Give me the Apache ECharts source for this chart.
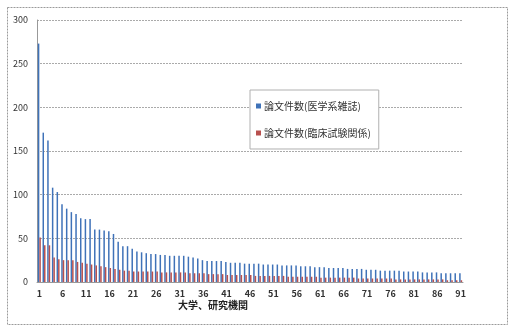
<!DOCTYPE html>
<html>
<head>
<meta charset="utf-8">
<script src="https://cdn.jsdelivr.net/npm/echarts@6/dist/echarts.min.js"></script>
<style>
  html, body { margin: 0; padding: 0; background: #fff; }
  #chart { width: 512px; height: 329px; }
</style>
</head>
<body>
<div id="chart"></div>
<script>
// Institutions ranked 1..91
const categories = [
  '1','2','3','4','5','6','7','8','9','10',
  '11','12','13','14','15','16','17','18','19','20',
  '21','22','23','24','25','26','27','28','29','30',
  '31','32','33','34','35','36','37','38','39','40',
  '41','42','43','44','45','46','47','48','49','50',
  '51','52','53','54','55','56','57','58','59','60',
  '61','62','63','64','65','66','67','68','69','70',
  '71','72','73','74','75','76','77','78','79','80',
  '81','82','83','84','85','86','87','88','89','90',
  '91'
];

// 論文件数 (医学系雑誌)
const medicalJournals = [
  273, 171, 162, 108, 103, 89, 84, 80, 78, 73,
  72, 72, 60, 60, 59, 58, 55, 46, 41, 41,
  38, 35, 34, 33, 32, 32, 31, 31, 30, 30,
  30, 30, 29, 28, 27, 25, 24, 24, 24, 24,
  23, 22, 22, 22, 21, 21, 21, 21, 20, 20,
  20, 20, 19, 19, 19, 19, 18, 18, 18, 17,
  17, 17, 16, 16, 16, 16, 15, 15, 15, 15,
  14, 14, 14, 13, 13, 13, 13, 13, 12, 12,
  12, 12, 11, 11, 11, 11, 10, 10, 10, 10,
  10
];

// 論文件数 (臨床試験関係)
const clinicalTrials = [
  51, 42, 42, 28, 26, 25, 25, 25, 23, 22,
  21, 20, 19, 18, 17, 16, 15, 14, 13, 13,
  12, 12, 12, 12, 12, 12, 11, 11, 11, 11,
  11, 11, 10, 10, 10, 10, 9, 9, 9, 9,
  8, 8, 8, 8, 8, 8, 7, 7, 7, 7,
  7, 7, 7, 6, 6, 6, 6, 6, 6, 6,
  5, 5, 5, 5, 5, 5, 5, 5, 4, 4,
  4, 4, 4, 4, 4, 4, 3, 3, 3, 3,
  3, 3, 3, 3, 3, 3, 3, 2, 2, 2,
  2
];

const seriesNames = ['論文件数(医学系雑誌)', '論文件数(臨床試験関係)'];
const axisTitle = '大学、研究機関';
const yTicks = { min: 0, max: 300, interval: 50 };

const font = '"Noto Sans CJK JP", "Noto Sans", sans-serif';
const chart = echarts.init(document.getElementById('chart'), null, { renderer: 'canvas' });

chart.setOption({
  backgroundColor: '#ffffff',
  animation: false,
  textStyle: { fontFamily: font },
  grid: { left: 37, right: 49, top: 20, bottom: 47, containLabel: false },
  legend: {
    orient: 'vertical',
    left: 250,
    top: 90,
    width: 135,
    padding: [11, 8, 11, 6],
    itemGap: 17,
    itemWidth: 5,
    itemHeight: 5,
    icon: 'rect',
    borderColor: '#b0b0b0',
    borderWidth: 1,
    backgroundColor: '#ffffff',
    textStyle: { fontSize: 10, color: '#333', padding: [0, 0, 0, -2] },
    data: seriesNames
  },
  xAxis: {
    type: 'category',
    data: categories,
    boundaryGap: true,
    axisLine: { lineStyle: { color: '#999', width: 1 } },
    axisTick: { show: false },
    axisLabel: { interval: 4, fontSize: 9, color: '#333', fontWeight: 'bold', margin: 7 }
  },
  yAxis: {
    type: 'value',
    min: yTicks.min,
    max: yTicks.max,
    interval: yTicks.interval,
    axisLine: { show: true, lineStyle: { color: '#999', width: 1 } },
    axisTick: { show: false },
    axisLabel: { fontSize: 9, color: '#333', margin: 9 },
    splitLine: { lineStyle: { color: '#aaa', width: 1, type: [2, 1] } }
  },
  series: [
    {
      name: seriesNames[0],
      type: 'bar',
      data: medicalJournals,
      barGap: '0%',
      barCategoryGap: '36%',
      itemStyle: { color: '#3f72b8' }
    },
    {
      name: seriesNames[1],
      type: 'bar',
      data: clinicalTrials,
      barGap: '0%',
      barCategoryGap: '36%',
      itemStyle: { color: '#b8504e' }
    }
  ],
  graphic: [
    {
      type: 'rect',
      left: 5, top: 5,
      shape: { width: 500, height: 317 },
      silent: true,
      z: -10,
      style: { fill: 'none', stroke: '#9a9a9a', lineWidth: 1, lineDash: [2, 1] }
    },
    {
      type: 'text',
      left: 178, top: 300,
      style: { text: axisTitle, fontSize: 10, fontWeight: 'bold', fill: '#222', fontFamily: font }
    }
  ]
});
</script>
</body>
</html>
